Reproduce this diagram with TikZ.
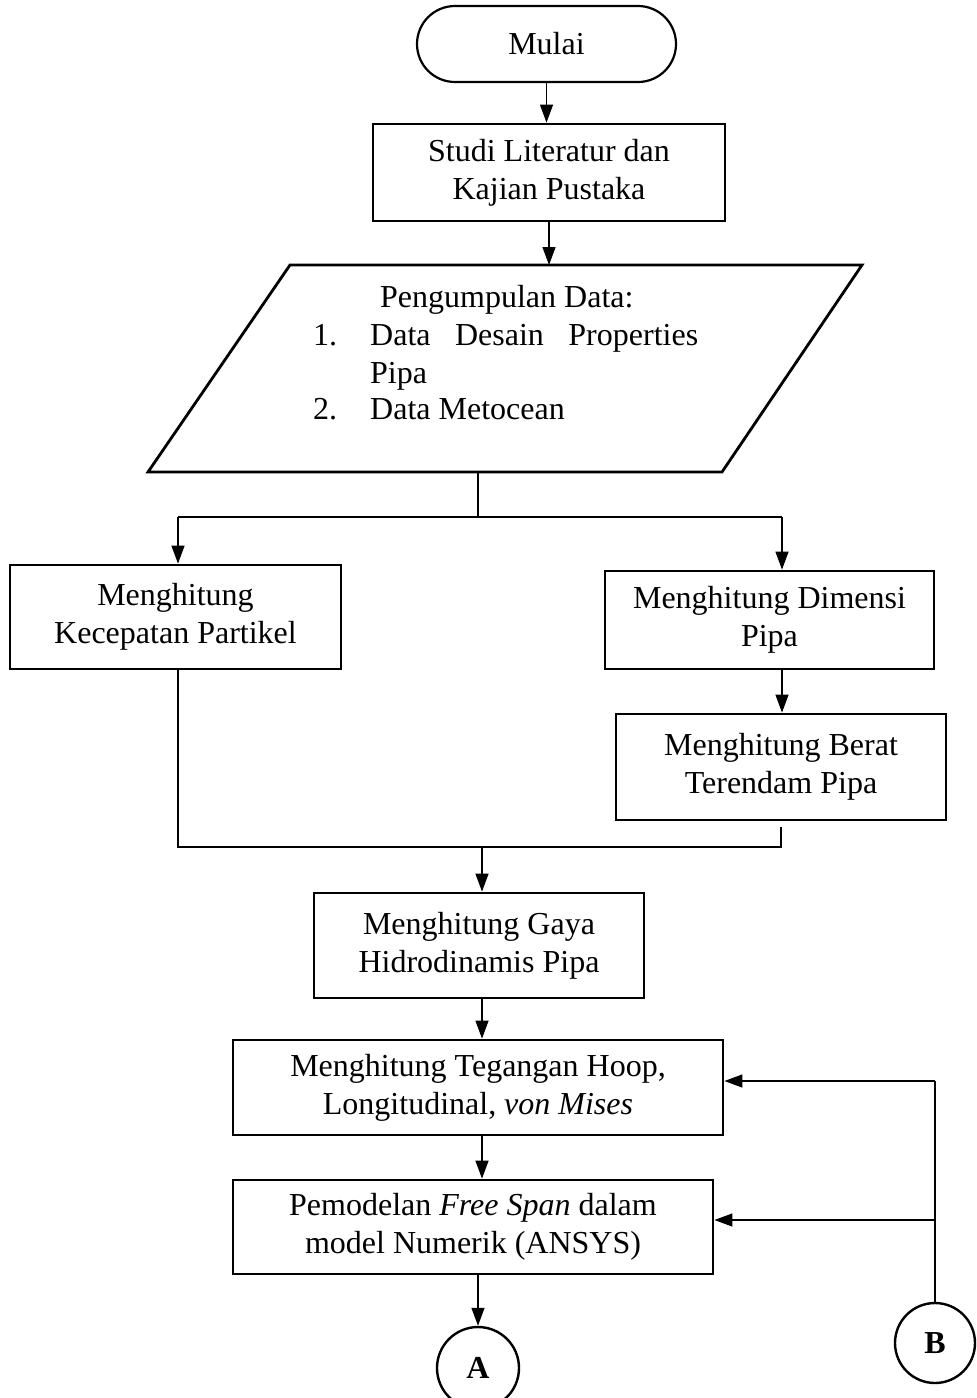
\documentclass[tikz,border=0pt]{standalone}
\usepackage{fontspec}
\setmainfont{Liberation Serif}
\usetikzlibrary{arrows.meta,shapes.misc}
\begin{document}
\begin{tikzpicture}[x=1pt,y=-1pt,
  txt/.style={font=\fontsize{32}{38}\selectfont},
  box/.style={draw,line width=2.8pt,align=center,inner sep=0pt,txt},
  conn/.style={line width=1.3pt},
  arr/.style={conn,-{Triangle[length=18pt,width=13pt]}}]
\useasboundingbox (0,0) rectangle (977,1398);
% start
\node[box,line width=2.2pt,rounded rectangle,minimum width=259pt,minimum height=76pt] (mulai) at (546.5,44) {Mulai};
\node[box,minimum width=352pt,minimum height=97pt] (studi) at (549,172.5) {Studi Literatur dan\\Kajian Pustaka};
\draw[arr] (mulai.south) -- (mulai.south |- studi.north);
% data parallelogram
\coordinate (p1) at (290,265);
\coordinate (p2) at (862,265);
\coordinate (p3) at (722,472);
\coordinate (p4) at (148,472);
\draw[line width=2.8pt,line join=miter] (p1) -- (p2) -- (p3) -- (p4) -- cycle;
\draw[arr] (studi.south) -- (studi.south |- p1);
\node[txt,anchor=base west,inner sep=0pt] (t0) at (380,307) {Pengumpulan Data:};
\node[txt,anchor=base west,inner sep=0pt] (n1) at (313,345) {1.};
\node[txt,anchor=base west,inner sep=0pt] (t1) at (370,345) {\makebox[328pt][s]{Data Desain Properties}};
\node[txt,anchor=base west,inner sep=0pt] (t2) at (370,383) {Pipa};
\node[txt,anchor=base west,inner sep=0pt] (n2) at (313,419) {2.};
\node[txt,anchor=base west,inner sep=0pt] (t3) at (370,419) {Data Metocean};
% split
\node[box,minimum width=331pt,minimum height=104pt] (kec) at (175.5,617) {Menghitung\\Kecepatan Partikel};
\node[box,minimum width=329pt,minimum height=98pt] (dim) at (769.5,620) {Menghitung Dimensi\\Pipa};
\node[box,minimum width=330pt,minimum height=106pt] (berat) at (781,767) {Menghitung Berat\\Terendam Pipa};
\coordinate (pb) at (478,472);
\coordinate (sp) at (478,517);
\coordinate (spl) at (178,517);
\coordinate (spr) at (782,517);
\draw[conn] (pb) -- (sp);
\draw[conn] (spl) -- (spr);
\draw[arr] (spl) -- (spl |- kec.north);
\draw[arr] (spr) -- (spr |- dim.north);
\draw[arr] (spr |- dim.south) -- (spr |- berat.north);
% merge
\coordinate (ml) at (178,847);
\coordinate (mr) at (781,847);
\coordinate (bb) at (781,827);
\coordinate (mm) at (482,847);
\draw[conn] (ml |- kec.south) -- (ml) -- (mr) -- (bb);
\node[box,minimum width=330pt,minimum height=105pt] (gaya) at (479,945.5) {Menghitung Gaya\\Hidrodinamis Pipa};
\draw[arr] (mm) -- (mm |- gaya.north);
\node[box,minimum width=490pt,minimum height=95pt] (hoop) at (478,1087.5) {Menghitung Tegangan Hoop,\\Longitudinal, \textit{von Mises}};
\draw[arr] (mm |- gaya.south) -- (mm |- hoop.north);
\node[box,minimum width=480pt,minimum height=94pt] (model) at (473,1227) {Pemodelan \textit{Free Span} dalam\\model Numerik (ANSYS)};
\draw[arr] (mm |- hoop.south) -- (mm |- model.north);
% connectors
\node[draw,circle,line width=2.4pt,minimum size=82pt,inner sep=0pt,font=\bfseries\fontsize{32}{38}\selectfont] (A) at (478,1368) {A};
\draw[arr] (A.north |- model.south) -- (A.north);
\node[draw,circle,line width=2.4pt,minimum size=80pt,inner sep=0pt,font=\bfseries\fontsize{32}{38}\selectfont] (B) at (935,1343) {B};
\coordinate (b1) at (935,1081);
\coordinate (b2) at (935,1220);
\draw[conn] (B.north) -- (b1);
\draw[arr] (b1) -- (b1 -| hoop.east);
\draw[arr] (b2) -- (b2 -| model.east);
\end{tikzpicture}
\end{document}
